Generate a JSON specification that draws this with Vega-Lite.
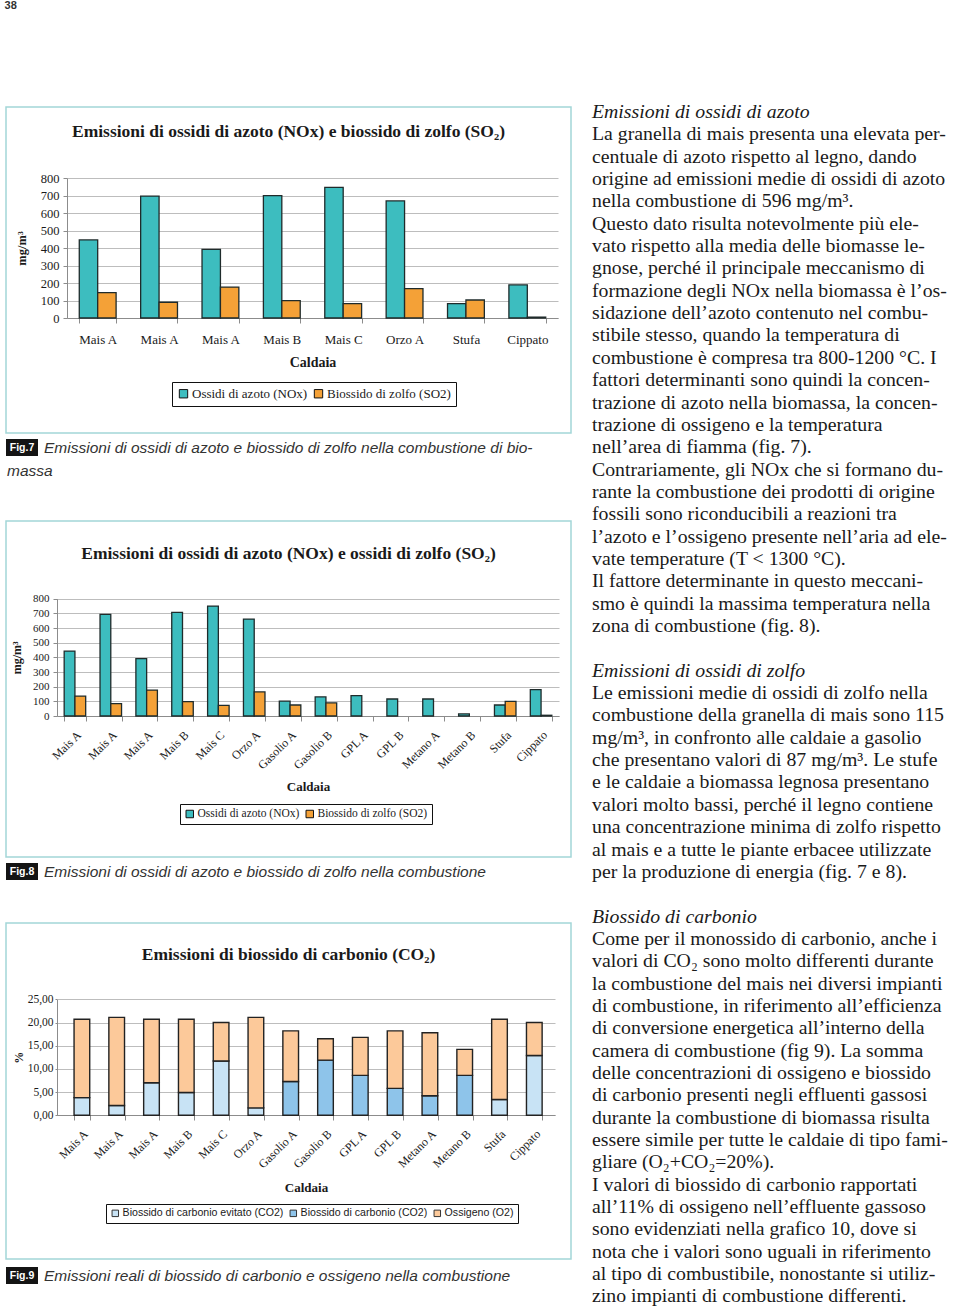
{
  "$schema": "https://vega.github.io/schema/vega-lite/v6.json",
  "background": "#ffffff",
  "padding": {"left": 4, "top": 0, "right": 0, "bottom": 0},
  "title": {"text": "38", "anchor": "start", "frame": "bounds", "font": "Liberation Sans", "fontSize": 11, "fontWeight": "bold", "color": "#333333", "offset": 91},
  "datasets": {
    "fig7": [
      {"caldaia": "Mais A|1", "serie": "Ossidi di azoto (NOx)", "valore": 446},
      {"caldaia": "Mais A|1", "serie": "Biossido di zolfo (SO2)", "valore": 145},
      {"caldaia": "Mais A|2", "serie": "Ossidi di azoto (NOx)", "valore": 697},
      {"caldaia": "Mais A|2", "serie": "Biossido di zolfo (SO2)", "valore": 90},
      {"caldaia": "Mais A|3", "serie": "Ossidi di azoto (NOx)", "valore": 392},
      {"caldaia": "Mais A|3", "serie": "Biossido di zolfo (SO2)", "valore": 177},
      {"caldaia": "Mais B", "serie": "Ossidi di azoto (NOx)", "valore": 699},
      {"caldaia": "Mais B", "serie": "Biossido di zolfo (SO2)", "valore": 99},
      {"caldaia": "Mais C", "serie": "Ossidi di azoto (NOx)", "valore": 747},
      {"caldaia": "Mais C", "serie": "Biossido di zolfo (SO2)", "valore": 82},
      {"caldaia": "Orzo A", "serie": "Ossidi di azoto (NOx)", "valore": 669},
      {"caldaia": "Orzo A", "serie": "Biossido di zolfo (SO2)", "valore": 168},
      {"caldaia": "Stufa", "serie": "Ossidi di azoto (NOx)", "valore": 82},
      {"caldaia": "Stufa", "serie": "Biossido di zolfo (SO2)", "valore": 103},
      {"caldaia": "Cippato", "serie": "Ossidi di azoto (NOx)", "valore": 189},
      {"caldaia": "Cippato", "serie": "Biossido di zolfo (SO2)", "valore": 5}
    ],
    "fig8": [
      {"caldaia": "Mais A|1", "serie": "Ossidi di azoto (NOx)", "valore": 443},
      {"caldaia": "Mais A|1", "serie": "Biossido di zolfo (SO2)", "valore": 136},
      {"caldaia": "Mais A|2", "serie": "Ossidi di azoto (NOx)", "valore": 693},
      {"caldaia": "Mais A|2", "serie": "Biossido di zolfo (SO2)", "valore": 84},
      {"caldaia": "Mais A|3", "serie": "Ossidi di azoto (NOx)", "valore": 391},
      {"caldaia": "Mais A|3", "serie": "Biossido di zolfo (SO2)", "valore": 177},
      {"caldaia": "Mais B", "serie": "Ossidi di azoto (NOx)", "valore": 707},
      {"caldaia": "Mais B", "serie": "Biossido di zolfo (SO2)", "valore": 98},
      {"caldaia": "Mais C", "serie": "Ossidi di azoto (NOx)", "valore": 750},
      {"caldaia": "Mais C", "serie": "Biossido di zolfo (SO2)", "valore": 73},
      {"caldaia": "Orzo A", "serie": "Ossidi di azoto (NOx)", "valore": 661},
      {"caldaia": "Orzo A", "serie": "Biossido di zolfo (SO2)", "valore": 164},
      {"caldaia": "Gasolio A", "serie": "Ossidi di azoto (NOx)", "valore": 102},
      {"caldaia": "Gasolio A", "serie": "Biossido di zolfo (SO2)", "valore": 75},
      {"caldaia": "Gasolio B", "serie": "Ossidi di azoto (NOx)", "valore": 130},
      {"caldaia": "Gasolio B", "serie": "Biossido di zolfo (SO2)", "valore": 89},
      {"caldaia": "GPL A", "serie": "Ossidi di azoto (NOx)", "valore": 139},
      {"caldaia": "GPL B", "serie": "Ossidi di azoto (NOx)", "valore": 116},
      {"caldaia": "Metano A", "serie": "Ossidi di azoto (NOx)", "valore": 116},
      {"caldaia": "Metano B", "serie": "Ossidi di azoto (NOx)", "valore": 14},
      {"caldaia": "Stufa", "serie": "Ossidi di azoto (NOx)", "valore": 75},
      {"caldaia": "Stufa", "serie": "Biossido di zolfo (SO2)", "valore": 100},
      {"caldaia": "Cippato", "serie": "Ossidi di azoto (NOx)", "valore": 180},
      {"caldaia": "Cippato", "serie": "Biossido di zolfo (SO2)", "valore": 5}
    ],
    "fig9": [
      {"caldaia": "Mais A|1", "serie": "Biossido di carbonio evitato (CO2)", "valore": 3.8},
      {"caldaia": "Mais A|1", "serie": "Ossigeno (O2)", "valore": 16.9},
      {"caldaia": "Mais A|2", "serie": "Biossido di carbonio evitato (CO2)", "valore": 2.1},
      {"caldaia": "Mais A|2", "serie": "Ossigeno (O2)", "valore": 19.0},
      {"caldaia": "Mais A|3", "serie": "Biossido di carbonio evitato (CO2)", "valore": 7.0},
      {"caldaia": "Mais A|3", "serie": "Ossigeno (O2)", "valore": 13.7},
      {"caldaia": "Mais B", "serie": "Biossido di carbonio evitato (CO2)", "valore": 4.9},
      {"caldaia": "Mais B", "serie": "Ossigeno (O2)", "valore": 15.8},
      {"caldaia": "Mais C", "serie": "Biossido di carbonio evitato (CO2)", "valore": 11.7},
      {"caldaia": "Mais C", "serie": "Ossigeno (O2)", "valore": 8.3},
      {"caldaia": "Orzo A", "serie": "Biossido di carbonio evitato (CO2)", "valore": 1.6},
      {"caldaia": "Orzo A", "serie": "Ossigeno (O2)", "valore": 19.5},
      {"caldaia": "Gasolio A", "serie": "Biossido di carbonio (CO2)", "valore": 7.3},
      {"caldaia": "Gasolio A", "serie": "Ossigeno (O2)", "valore": 10.9},
      {"caldaia": "Gasolio B", "serie": "Biossido di carbonio (CO2)", "valore": 11.9},
      {"caldaia": "Gasolio B", "serie": "Ossigeno (O2)", "valore": 4.6},
      {"caldaia": "GPL A", "serie": "Biossido di carbonio (CO2)", "valore": 8.6},
      {"caldaia": "GPL A", "serie": "Ossigeno (O2)", "valore": 8.2},
      {"caldaia": "GPL B", "serie": "Biossido di carbonio (CO2)", "valore": 5.8},
      {"caldaia": "GPL B", "serie": "Ossigeno (O2)", "valore": 12.4},
      {"caldaia": "Metano A", "serie": "Biossido di carbonio (CO2)", "valore": 4.2},
      {"caldaia": "Metano A", "serie": "Ossigeno (O2)", "valore": 13.6},
      {"caldaia": "Metano B", "serie": "Biossido di carbonio (CO2)", "valore": 8.6},
      {"caldaia": "Metano B", "serie": "Ossigeno (O2)", "valore": 5.6},
      {"caldaia": "Stufa", "serie": "Biossido di carbonio evitato (CO2)", "valore": 3.4},
      {"caldaia": "Stufa", "serie": "Ossigeno (O2)", "valore": 17.3},
      {"caldaia": "Cippato", "serie": "Biossido di carbonio evitato (CO2)", "valore": 12.9},
      {"caldaia": "Cippato", "serie": "Ossigeno (O2)", "valore": 7.1}
    ],
    "body": [
      {"riga": 0, "tipo": "titolo", "testo": "Emissioni di ossidi di azoto"},
      {"riga": 1, "tipo": "testo", "testo": "La granella di mais presenta una elevata per-"},
      {"riga": 2, "tipo": "testo", "testo": "centuale di azoto rispetto al legno, dando"},
      {"riga": 3, "tipo": "testo", "testo": "origine ad emissioni medie di ossidi di azoto"},
      {"riga": 4, "tipo": "testo", "testo": "nella combustione di 596 mg/m³."},
      {"riga": 5, "tipo": "testo", "testo": "Questo dato risulta notevolmente più ele-"},
      {"riga": 6, "tipo": "testo", "testo": "vato rispetto alla media delle biomasse le-"},
      {"riga": 7, "tipo": "testo", "testo": "gnose, perché il principale meccanismo di"},
      {"riga": 8, "tipo": "testo", "testo": "formazione degli NOx nella biomassa è l’os-"},
      {"riga": 9, "tipo": "testo", "testo": "sidazione dell’azoto contenuto nel combu-"},
      {"riga": 10, "tipo": "testo", "testo": "stibile stesso, quando la temperatura di"},
      {"riga": 11, "tipo": "testo", "testo": "combustione è compresa tra 800-1200 °C. I"},
      {"riga": 12, "tipo": "testo", "testo": "fattori determinanti sono quindi la concen-"},
      {"riga": 13, "tipo": "testo", "testo": "trazione di azoto nella biomassa, la concen-"},
      {"riga": 14, "tipo": "testo", "testo": "trazione di ossigeno e la temperatura"},
      {"riga": 15, "tipo": "testo", "testo": "nell’area di fiamma (fig. 7)."},
      {"riga": 16, "tipo": "testo", "testo": "Contrariamente, gli NOx che si formano du-"},
      {"riga": 17, "tipo": "testo", "testo": "rante la combustione dei prodotti di origine"},
      {"riga": 18, "tipo": "testo", "testo": "fossili sono riconducibili a reazioni tra"},
      {"riga": 19, "tipo": "testo", "testo": "l’azoto e l’ossigeno presente nell’aria ad ele-"},
      {"riga": 20, "tipo": "testo", "testo": "vate temperature (T < 1300 °C)."},
      {"riga": 21, "tipo": "testo", "testo": "Il fattore determinante in questo meccani-"},
      {"riga": 22, "tipo": "testo", "testo": "smo è quindi la massima temperatura nella"},
      {"riga": 23, "tipo": "testo", "testo": "zona di combustione (fig. 8)."},
      {"riga": 25, "tipo": "titolo", "testo": "Emissioni di ossidi di zolfo"},
      {"riga": 26, "tipo": "testo", "testo": "Le emissioni medie di ossidi di zolfo nella"},
      {"riga": 27, "tipo": "testo", "testo": "combustione della granella di mais sono 115"},
      {"riga": 28, "tipo": "testo", "testo": "mg/m³, in confronto alle caldaie a gasolio"},
      {"riga": 29, "tipo": "testo", "testo": "che presentano valori di 87 mg/m³. Le stufe"},
      {"riga": 30, "tipo": "testo", "testo": "e le caldaie a biomassa legnosa presentano"},
      {"riga": 31, "tipo": "testo", "testo": "valori molto bassi, perché il legno contiene"},
      {"riga": 32, "tipo": "testo", "testo": "una concentrazione minima di zolfo rispetto"},
      {"riga": 33, "tipo": "testo", "testo": "al mais e a tutte le piante erbacee utilizzate"},
      {"riga": 34, "tipo": "testo", "testo": "per la produzione di energia (fig. 7 e 8)."},
      {"riga": 36, "tipo": "titolo", "testo": "Biossido di carbonio"},
      {"riga": 37, "tipo": "testo", "testo": "Come per il monossido di carbonio, anche i"},
      {"riga": 38, "tipo": "testo", "testo": "valori di CO₂ sono molto differenti durante"},
      {"riga": 39, "tipo": "testo", "testo": "la combustione del mais nei diversi impianti"},
      {"riga": 40, "tipo": "testo", "testo": "di combustione, in riferimento all’efficienza"},
      {"riga": 41, "tipo": "testo", "testo": "di conversione energetica all’interno della"},
      {"riga": 42, "tipo": "testo", "testo": "camera di combustione (fig 9). La somma"},
      {"riga": 43, "tipo": "testo", "testo": "delle concentrazioni di ossigeno e biossido"},
      {"riga": 44, "tipo": "testo", "testo": "di carbonio presenti negli effluenti gassosi"},
      {"riga": 45, "tipo": "testo", "testo": "durante la combustione di biomassa risulta"},
      {"riga": 46, "tipo": "testo", "testo": "essere simile per tutte le caldaie di tipo fami-"},
      {"riga": 47, "tipo": "testo", "testo": "gliare (O₂+CO₂=20%)."},
      {"riga": 48, "tipo": "testo", "testo": "I valori di biossido di carbonio rapportati"},
      {"riga": 49, "tipo": "testo", "testo": "all’11% di ossigeno nell’effluente gassoso"},
      {"riga": 50, "tipo": "testo", "testo": "sono evidenziati nella grafico 10, dove si"},
      {"riga": 51, "tipo": "testo", "testo": "nota che i valori sono uguali in riferimento"},
      {"riga": 52, "tipo": "testo", "testo": "al tipo di combustibile, nonostante si utiliz-"},
      {"riga": 53, "tipo": "testo", "testo": "zino impianti di combustione differenti."}
    ]
  },
  "hconcat": [
    {
      "spacing": 0,
      "bounds": "flush",
      "resolve": {"scale": {"x": "independent", "y": "independent", "color": "independent", "xOffset": "independent"}, "axis": {"x": "independent", "y": "independent"}, "legend": {"color": "independent"}},
      "vconcat": [
        {
          "width": 565, "height": 326,
          "view": {"stroke": "#a3d6d8", "strokeWidth": 1.5},
          "title": {"text": "Emissioni di ossidi di azoto (NOx) e biossido di zolfo (SO₂)", "frame": "group", "anchor": "middle", "offset": -33, "font": "Liberation Serif", "fontSize": 17.5, "fontWeight": "bold", "color": "#1a1a1a"},
          "data": {"name": "fig7"},
          "mark": {"type": "bar", "stroke": "#1f2b2b", "strokeWidth": 1.3},
          "encoding": {
            "x": {"field": "caldaia", "type": "nominal", "sort": null,
              "scale": {"range": [61, 552], "paddingInner": 0.4, "paddingOuter": 0.2},
              "axis": {"title": "Caldaia", "offset": -115, "labelExpr": "datum.label ? split(datum.label, '|')[0] : ''", "labelAngle": 0, "labelOverlap": false, "tickBand": "extent", "tickSize": 5, "labelPadding": 10, "labelFont": "Liberation Serif", "labelFontSize": 13, "labelColor": "#1a1a1a", "titleFont": "Liberation Serif", "titleFontSize": 14, "titleFontWeight": "bold", "titleColor": "#1a1a1a", "titlePadding": 9, "domainColor": "#8c8c8c", "tickColor": "#8c8c8c", "grid": false}},
            "xOffset": {"field": "serie", "type": "nominal", "sort": ["Ossidi di azoto (NOx)", "Biossido di zolfo (SO2)"]},
            "y": {"field": "valore", "type": "quantitative",
              "scale": {"domain": [0, 800], "range": [211, 71], "nice": false},
              "axis": {"title": "mg/m³", "offset": -61, "values": [0, 100, 200, 300, 400, 500, 600, 700, 800], "tickSize": 4, "labelPadding": 4, "labelFont": "Liberation Serif", "labelFontSize": 12.5, "labelColor": "#1a1a1a", "titleFont": "Liberation Serif", "titleFontSize": 12.5, "titleFontWeight": "bold", "titleColor": "#1a1a1a", "titlePadding": 12, "domainColor": "#8c8c8c", "tickColor": "#8c8c8c", "grid": true, "gridColor": "#bdbdbd", "gridWidth": 1}},
            "color": {"field": "serie", "type": "nominal", "sort": ["Ossidi di azoto (NOx)", "Biossido di zolfo (SO2)"],
              "scale": {"range": ["#3dbdbf", "#f4a137"]},
              "legend": {"orient": "none", "legendX": 166, "legendY": 275, "direction": "horizontal", "title": null, "fillColor": "#ffffff", "strokeColor": "#111111", "padding": 5, "symbolType": "square", "symbolSize": 70, "symbolStrokeColor": "#111111", "symbolStrokeWidth": 1, "labelFont": "Liberation Serif", "labelFontSize": 13, "labelColor": "#1a1a1a", "labelOffset": 2, "columnPadding": 4}}
          }
        },
        {
          "width": 565, "height": 88,
          "data": {"values": [{"fig": "Fig.7", "didascalia": "Emissioni di ossidi di azoto e biossido di zolfo nella combustione di bio-", "seguito": "massa"}]},
          "encoding": {
            "x": {"field": "fig", "type": "nominal", "scale": {"range": [0, 32], "paddingInner": 0, "paddingOuter": 0}, "axis": null},
            "y": {"field": "fig", "type": "nominal", "scale": {"range": [6, 23], "paddingInner": 0, "paddingOuter": 0}, "axis": null}
          },
          "layer": [
            {"mark": {"type": "rect", "color": "#141414"}},
            {"mark": {"type": "text", "color": "#ffffff", "font": "Liberation Sans", "fontWeight": "bold", "fontSize": 10.5}, "encoding": {"text": {"field": "fig"}}},
            {"mark": {"type": "text", "align": "left", "baseline": "middle", "dx": 6, "font": "Liberation Sans", "fontStyle": "italic", "fontSize": 15.5, "color": "#333333"}, "encoding": {"x": {"field": "fig", "type": "nominal", "bandPosition": 1, "axis": null}, "text": {"field": "didascalia"}}},
            {"mark": {"type": "text", "align": "left", "baseline": "middle", "dx": 1, "dy": 23, "font": "Liberation Sans", "fontStyle": "italic", "fontSize": 15.5, "color": "#333333"}, "encoding": {"x": {"field": "fig", "type": "nominal", "bandPosition": 0, "axis": null}, "text": {"field": "seguito"}}}
          ]
        },
        {
          "width": 565, "height": 336,
          "view": {"stroke": "#a3d6d8", "strokeWidth": 1.5},
          "title": {"text": "Emissioni di ossidi di azoto (NOx) e ossidi di zolfo (SO₂)", "frame": "group", "anchor": "middle", "offset": -41, "font": "Liberation Serif", "fontSize": 17.5, "fontWeight": "bold", "color": "#1a1a1a"},
          "data": {"name": "fig8"},
          "mark": {"type": "bar", "stroke": "#1f2b2b", "strokeWidth": 1.3},
          "encoding": {
            "x": {"field": "caldaia", "type": "nominal", "sort": null,
              "scale": {"range": [51, 553], "paddingInner": 0.4, "paddingOuter": 0.2},
              "axis": {"title": "Caldaia", "offset": -141, "labelExpr": "datum.label ? split(datum.label, '|')[0] : ''", "labelAngle": -45, "labelOverlap": false, "tickBand": "extent", "tickSize": 5, "labelPadding": 8, "labelFont": "Liberation Serif", "labelFontSize": 12, "labelColor": "#1a1a1a", "titleFont": "Liberation Serif", "titleFontSize": 13, "titleFontWeight": "bold", "titleColor": "#1a1a1a", "titlePadding": 9, "domainColor": "#8c8c8c", "tickColor": "#8c8c8c", "grid": false}},
            "xOffset": {"field": "serie", "type": "nominal", "sort": ["Ossidi di azoto (NOx)", "Biossido di zolfo (SO2)"]},
            "y": {"field": "valore", "type": "quantitative",
              "scale": {"domain": [0, 800], "range": [195, 77.7], "nice": false},
              "axis": {"title": "mg/m³", "offset": -51, "values": [0, 100, 200, 300, 400, 500, 600, 700, 800], "tickSize": 4, "labelPadding": 4, "labelFont": "Liberation Serif", "labelFontSize": 11, "labelColor": "#1a1a1a", "titleFont": "Liberation Serif", "titleFontSize": 12, "titleFontWeight": "bold", "titleColor": "#1a1a1a", "titlePadding": 9, "domainColor": "#8c8c8c", "tickColor": "#8c8c8c", "grid": true, "gridColor": "#bdbdbd", "gridWidth": 1}},
            "color": {"field": "serie", "type": "nominal", "sort": ["Ossidi di azoto (NOx)", "Biossido di zolfo (SO2)"],
              "scale": {"range": ["#3dbdbf", "#f4a137"]},
              "legend": {"orient": "none", "legendX": 174, "legendY": 283, "direction": "horizontal", "title": null, "fillColor": "#ffffff", "strokeColor": "#111111", "padding": 4, "symbolType": "square", "symbolSize": 56, "symbolStrokeColor": "#111111", "symbolStrokeWidth": 1, "labelFont": "Liberation Serif", "labelFontSize": 11.5, "labelColor": "#1a1a1a", "labelOffset": 2, "columnPadding": 4}}
          }
        },
        {
          "width": 565, "height": 66,
          "data": {"values": [{"fig": "Fig.8", "didascalia": "Emissioni di ossidi di azoto e biossido di zolfo nella combustione"}]},
          "encoding": {
            "x": {"field": "fig", "type": "nominal", "scale": {"range": [0, 32], "paddingInner": 0, "paddingOuter": 0}, "axis": null},
            "y": {"field": "fig", "type": "nominal", "scale": {"range": [6, 23], "paddingInner": 0, "paddingOuter": 0}, "axis": null}
          },
          "layer": [
            {"mark": {"type": "rect", "color": "#141414"}},
            {"mark": {"type": "text", "color": "#ffffff", "font": "Liberation Sans", "fontWeight": "bold", "fontSize": 10.5}, "encoding": {"text": {"field": "fig"}}},
            {"mark": {"type": "text", "align": "left", "baseline": "middle", "dx": 6, "font": "Liberation Sans", "fontStyle": "italic", "fontSize": 15.5, "color": "#333333"}, "encoding": {"x": {"field": "fig", "type": "nominal", "bandPosition": 1, "axis": null}, "text": {"field": "didascalia"}}}
          ]
        },
        {
          "width": 565, "height": 336,
          "view": {"stroke": "#a3d6d8", "strokeWidth": 1.5},
          "title": {"text": "Emissioni di biossido di carbonio (CO₂)", "frame": "group", "anchor": "middle", "offset": -40, "font": "Liberation Serif", "fontSize": 17.5, "fontWeight": "bold", "color": "#1a1a1a"},
          "data": {"name": "fig9"},
          "mark": {"type": "bar", "stroke": "#222222", "strokeWidth": 1.4},
          "encoding": {
            "x": {"field": "caldaia", "type": "nominal", "sort": null,
              "scale": {"range": [51, 549], "paddingInner": 0.55, "paddingOuter": 0.43, "align": 0.57},
              "axis": {"title": "Caldaia", "offset": -144, "labelExpr": "datum.label ? split(datum.label, '|')[0] : ''", "labelAngle": -45, "labelOverlap": false, "tickBand": "extent", "tickSize": 5, "labelPadding": 8, "labelFont": "Liberation Serif", "labelFontSize": 12, "labelColor": "#1a1a1a", "titleFont": "Liberation Serif", "titleFontSize": 13, "titleFontWeight": "bold", "titleColor": "#1a1a1a", "titlePadding": 11, "domainColor": "#8c8c8c", "tickColor": "#8c8c8c", "grid": false}},
            "y": {"field": "valore", "type": "quantitative", "stack": "zero",
              "scale": {"domain": [0, 25], "range": [192.3, 76.3], "nice": false},
              "axis": {"title": "%", "offset": -51, "values": [0, 5, 10, 15, 20, 25], "labelExpr": "replace(format(datum.value, '.2f'), '.', ',')", "tickSize": 2, "labelPadding": 2, "labelFont": "Liberation Serif", "labelFontSize": 11.5, "labelColor": "#1a1a1a", "titleFont": "Liberation Serif", "titleFontSize": 12, "titleFontWeight": "bold", "titleColor": "#1a1a1a", "titlePadding": 2, "domainColor": "#8c8c8c", "tickColor": "#8c8c8c", "grid": true, "gridColor": "#bdbdbd", "gridWidth": 1}},
            "order": {"field": "serie", "type": "nominal", "sort": "ascending"},
            "color": {"field": "serie", "type": "nominal",
              "scale": {"domain": ["Biossido di carbonio evitato (CO2)", "Biossido di carbonio (CO2)", "Ossigeno (O2)"], "range": ["#c8e3f5", "#8ec4ea", "#fcc99a"]},
              "legend": {"orient": "none", "legendX": 100, "legendY": 281, "direction": "horizontal", "title": null, "fillColor": "#ffffff", "strokeColor": "#111111", "padding": 4, "symbolType": "square", "symbolSize": 42, "symbolStrokeColor": "#333333", "symbolStrokeWidth": 1, "labelFont": "Liberation Sans", "labelFontSize": 10.6, "labelColor": "#1a1a1a", "labelOffset": 2, "columnPadding": 4, "labelLimit": 300}}
          }
        },
        {
          "width": 565, "height": 52,
          "data": {"values": [{"fig": "Fig.9", "didascalia": "Emissioni reali di biossido di carbonio e ossigeno nella combustione"}]},
          "encoding": {
            "x": {"field": "fig", "type": "nominal", "scale": {"range": [0, 32], "paddingInner": 0, "paddingOuter": 0}, "axis": null},
            "y": {"field": "fig", "type": "nominal", "scale": {"range": [8, 25], "paddingInner": 0, "paddingOuter": 0}, "axis": null}
          },
          "layer": [
            {"mark": {"type": "rect", "color": "#141414"}},
            {"mark": {"type": "text", "color": "#ffffff", "font": "Liberation Sans", "fontWeight": "bold", "fontSize": 10.5}, "encoding": {"text": {"field": "fig"}}},
            {"mark": {"type": "text", "align": "left", "baseline": "middle", "dx": 6, "font": "Liberation Sans", "fontStyle": "italic", "fontSize": 15.5, "color": "#333333"}, "encoding": {"x": {"field": "fig", "type": "nominal", "bandPosition": 1, "axis": null}, "text": {"field": "didascalia"}}}
          ]
        }
      ]
    },
    {
      "width": 370, "height": 1204,
      "data": {"name": "body"},
      "encoding": {
        "x": {"datum": 0, "type": "quantitative", "scale": {"domain": [0, 1], "nice": false, "zero": false}, "axis": null},
        "y": {"field": "riga", "type": "quantitative", "scale": {"domain": [-0.224, 53.65], "reverse": true, "nice": false, "zero": false}, "axis": null},
        "text": {"field": "testo", "type": "nominal"}
      },
      "layer": [
        {"transform": [{"filter": "datum.tipo === 'titolo'"}], "mark": {"type": "text", "align": "left", "baseline": "middle", "font": "Liberation Serif", "fontSize": 19.8, "fontStyle": "italic", "color": "#1a1a1a"}},
        {"transform": [{"filter": "datum.tipo !== 'titolo'"}], "mark": {"type": "text", "align": "left", "baseline": "middle", "font": "Liberation Serif", "fontSize": 19.8, "color": "#1a1a1a"}}
      ]
    }
  ],
  "spacing": 586,
  "bounds": "flush",
  "resolve": {"scale": {"x": "independent", "y": "independent", "color": "independent", "xOffset": "independent"}, "axis": {"x": "independent", "y": "independent"}, "legend": {"color": "independent"}},
  "config": {"view": {"stroke": null}}
}
